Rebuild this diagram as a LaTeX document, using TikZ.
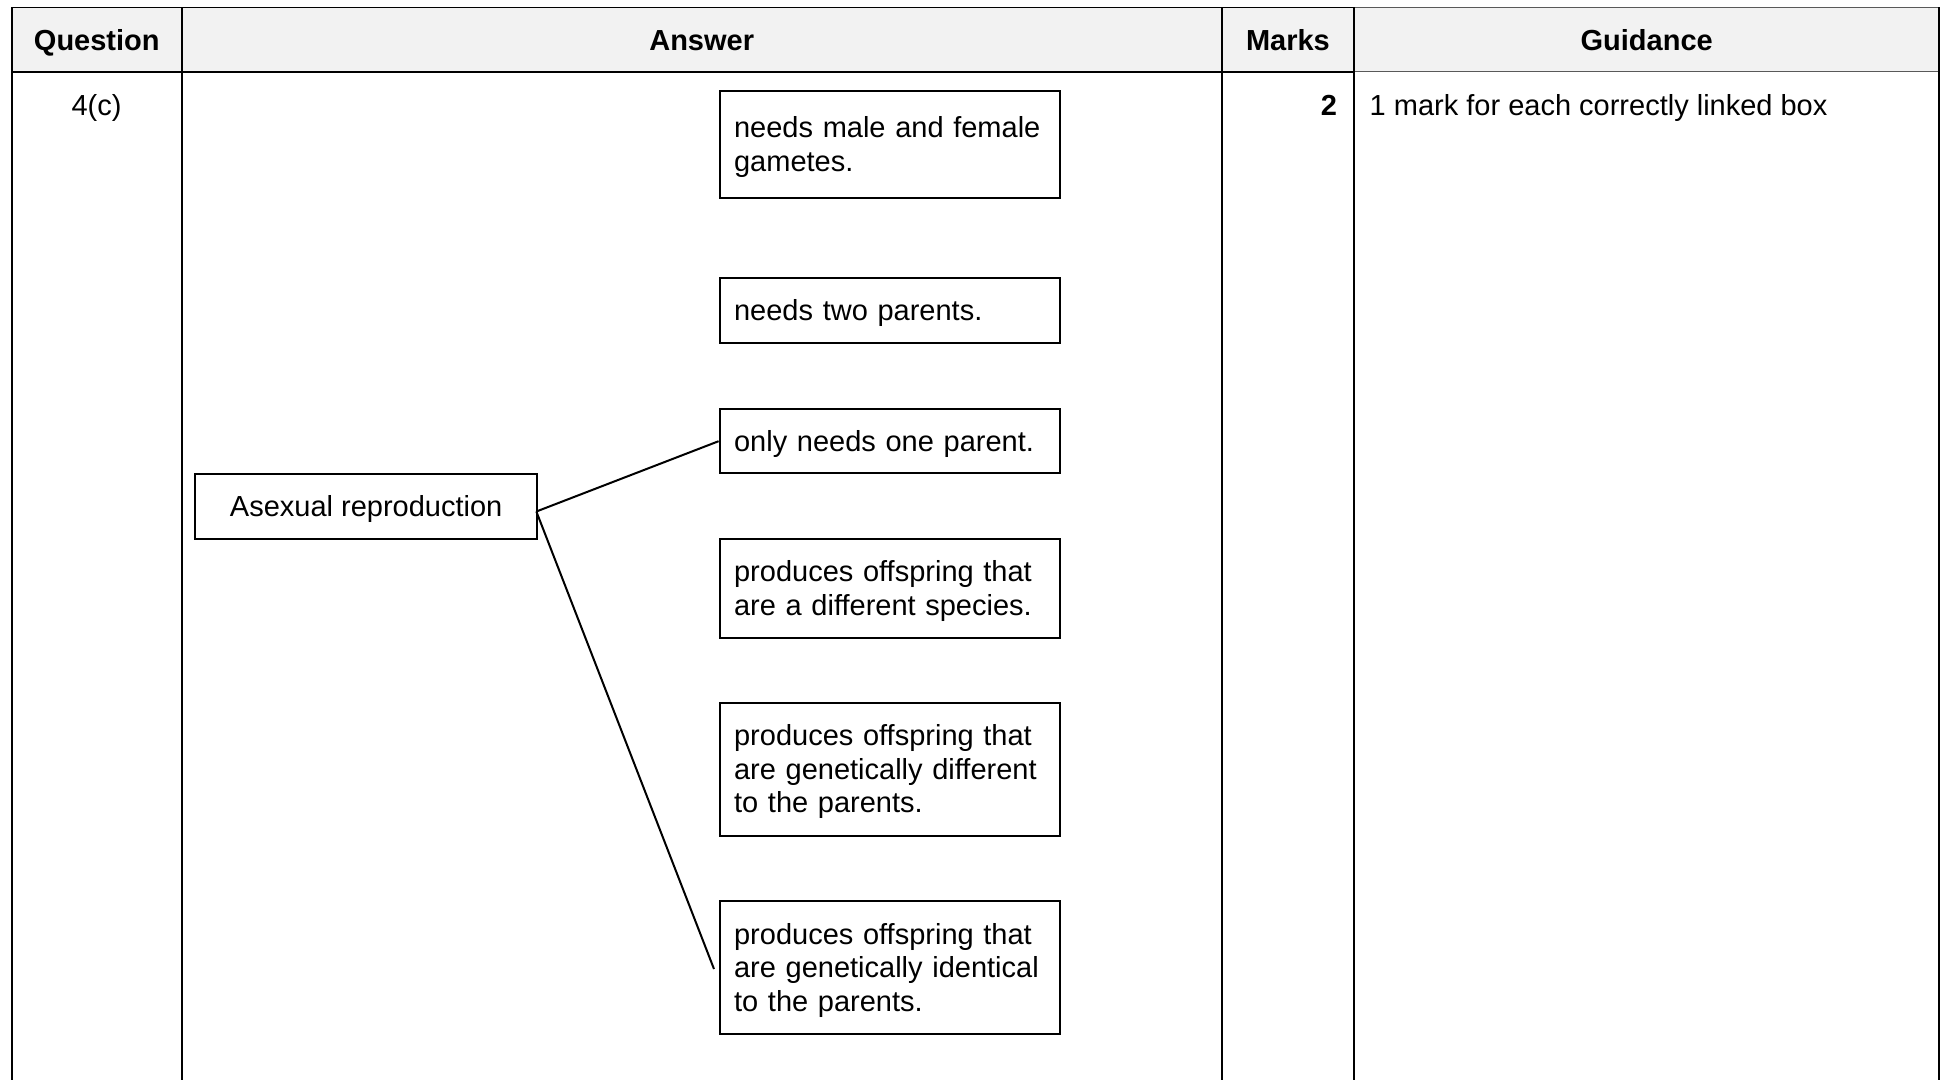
\documentclass[tikz,border=0pt]{standalone}
\usepackage{fontspec}
\setmainfont{Liberation Sans}
\begin{document}
\begin{tikzpicture}[x=1pt,y=-1pt,
  every node/.style={font=\fontsize{29pt}{33.5pt}\selectfont},
  tline/.style={line width=1.8pt,black},
  tlinegray/.style={line width=1.5pt,black!65},
  hdr/.style={anchor=base,inner sep=0pt,font=\fontsize{29pt}{33.5pt}\selectfont\bfseries},
  celltext/.style={inner sep=0pt},
  optbox/.style={draw,line width=2pt,minimum width=340.6pt,inner sep=0pt},
  opttext/.style={text width=311.6pt,inner sep=0pt,align=left},
  conn/.style={line width=2pt,black}
]
\useasboundingbox (0,0) rectangle (1942,1080);
% header background
\fill[black!5] (12,7.4) rectangle (1939.3,71.7);
% horizontal lines
\draw[tline] (12,7.4) -- (1354,7.4);
\draw[tlinegray] (1354,7.4) -- (1939.3,7.4);
\draw[tline] (12,71.7) -- (1354,71.7);
\draw[tlinegray] (1354,71.7) -- (1939.3,71.7);
% vertical lines
\foreach \xx in {12,181.7,1221.7,1354,1939.3}
  \draw[tline] (\xx,7.4) -- (\xx,1080);
% header texts
\node[hdr] (hq) at (96.8,50.5) {Question};
\node[hdr] (ha) at (701.7,50.5) {Answer};
\node[hdr] (hm) at (1287.9,50.5) {Marks};
\node[hdr] (hg) at (1646.7,50.5) {Guidance};
% row texts
\node[celltext,anchor=base] (q) at (96.5,115.5) {4(c)};
\node[celltext,anchor=base east,font=\fontsize{29pt}{33.5pt}\selectfont\bfseries] (mk) at (1337.3,115.5) {2};
\node[celltext,anchor=base west] (gd) at (1369.5,115.5) {1 mark for each correctly linked box};
% answer boxes
\node[optbox,minimum height=107.6pt] (b1) at (889.9,144.5) {};
\node[optbox,minimum height=64.4pt] (b2) at (889.9,310.5) {};
\node[optbox,minimum height=64.3pt] (b3) at (889.9,441.2) {};
\node[optbox,minimum height=98.7pt] (b4) at (889.9,588.4) {};
\node[optbox,minimum height=133pt] (b5) at (889.9,769.2) {};
\node[optbox,minimum height=133pt] (b6) at (889.9,967.5) {};
% answer texts
\node[opttext] (t1) at ([yshift=-2.5pt]b1.center) {needs male and female\\gametes.};
\node[opttext] (t2) at ([yshift=-2.5pt]b2.center) {needs two parents.};
\node[opttext] (t3) at ([yshift=-2.5pt]b3.center) {only needs one parent.};
\node[opttext] (t4) at ([yshift=-2.5pt]b4.center) {produces offspring that\\are a different species.};
\node[opttext] (t5) at ([yshift=-2.5pt]b5.center) {produces offspring that\\are genetically different\\to the parents.};
\node[opttext] (t6) at ([yshift=-2.5pt]b6.center) {produces offspring that\\are genetically identical\\to the parents.};
% left box
\node[draw,line width=2pt,minimum width=342.3pt,minimum height=65pt,inner sep=0pt] (asex) at (366.2,506.5) {};
\node[celltext] (asext) at ([yshift=-2.5pt]asex.center) {Asexual reproduction};
% connectors
\draw[conn] ([xshift=-2pt,yshift=-5pt]asex.east) -- (b3.west);
\draw[conn] ([xshift=-2pt,yshift=-5pt]asex.east) -- ([xshift=-4.6pt,yshift=-1.5pt]b6.west);
\end{tikzpicture}
\end{document}
